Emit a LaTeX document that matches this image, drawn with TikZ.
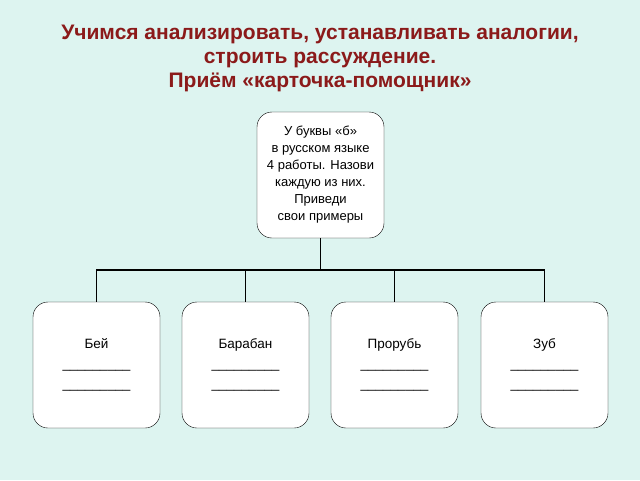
\documentclass[tikz,border=0pt]{standalone}
\usepackage{fontspec}
\setmainfont{Liberation Sans}
\definecolor{bg}{HTML}{DDF4F0}
\definecolor{ttl}{HTML}{8B1A1A}
\newcommand{\blankline}{\_\_\_\_\_\_\_\_\_}
\begin{document}
\begin{tikzpicture}[x=1pt,y=-1pt,
  box/.style={draw=black,fill=white,rounded corners=15pt,minimum width=127pt,minimum height=126pt,align=center,font=\fontsize{13.5}{20}\selectfont,inner sep=2pt},
  conn/.style={line width=1.6pt}]
\fill[bg] (0,0) rectangle (640,480);
\useasboundingbox (0,0) rectangle (640,480);
\node[text=ttl,font=\bfseries\fontsize{21}{24}\selectfont,align=center] (title) at (320,58) {Учимся анализировать, устанавливать аналогии,\\строить рассуждение.\\Приём «карточка-помощник»};
\node[box,font=\fontsize{13}{17}\selectfont] (top) at (320.5,175) {У буквы «б»\\в русском языке\\4 работы. Назови\\каждую из них.\\Приведи\\свои примеры};
\node[box] (b1) at (96.5,365) {Бей\\\blankline\\\blankline};
\node[box] (b2) at (245.5,365) {Барабан\\\blankline\\\blankline};
\node[box] (b3) at (394.5,365) {Прорубь\\\blankline\\\blankline};
\node[box] (b4) at (544.5,365) {Зуб\\\blankline\\\blankline};
\coordinate (j) at (320.5,270);
\draw[conn] (top.south) -- (j);
\foreach \b in {b1,b2,b3,b4} \draw[conn] (j) -| (\b.north);
\end{tikzpicture}
\end{document}
